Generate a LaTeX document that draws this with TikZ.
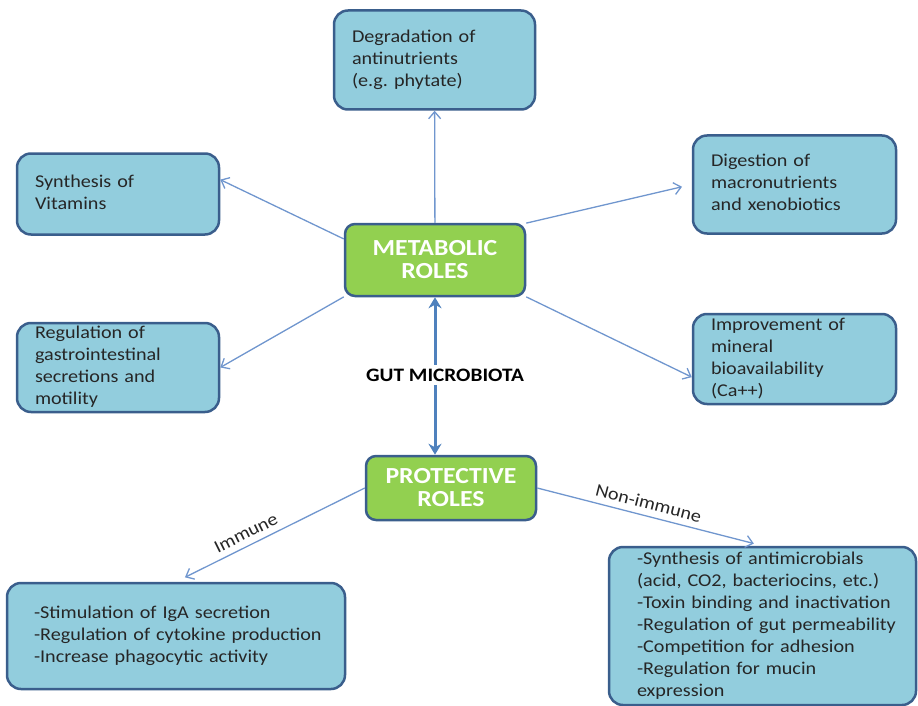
\documentclass[tikz,border=0pt]{standalone}
\usepackage{fontspec}
\setmainfont{Carlito}[FakeStretch=1.12]
\usetikzlibrary{arrows.meta, positioning}
\definecolor{boxfill}{RGB}{146,205,221}
\definecolor{boxline}{RGB}{58,94,140}
\definecolor{rolefill}{RGB}{146,208,80}
\definecolor{arrline}{RGB}{112,150,206}
\definecolor{gutline}{RGB}{79,129,189}
\newcommand{\boxlines}[1]{\begin{tabular}{@{}l@{}}#1\end{tabular}}

\begin{document}
\begin{tikzpicture}[
    x=1pt, y=-1pt,
    font=\fontsize{18}{22}\selectfont,
    box/.style={draw=boxline, fill=boxfill, line width=2.5pt, rounded corners=14pt, text=black!85,
                align=left, inner xsep=18pt, inner ysep=0pt},
    rolebox/.style={draw=boxline, fill=rolefill, line width=2.5pt, rounded corners=10pt, text=white,
                font=\fontsize{23}{23}\selectfont\bfseries, align=center, inner sep=0pt},
    arr/.style={-{Straight Barb[length=7pt,width=12pt]}, draw=arrline, line width=1.3pt},
    gut/.style={{Stealth[length=11pt,width=13pt]}-{Stealth[length=11pt,width=13pt]}, draw=gutline, line width=3pt},
    lbl/.style={font=\fontsize{18}{20}\selectfont, text=black!85, sloped, above, inner sep=6pt}
]
\path[use as bounding box] (0,0) rectangle (918,706);

\node[rolebox, minimum width=180pt, minimum height=72pt] (metab) at (435,260) {METABOLIC\\ROLES};
\node[rolebox, minimum width=170pt, minimum height=64pt] (prot) at (451,488) {PROTECTIVE\\ROLES};

\node[box, text width=165pt, minimum height=99pt] (degr) at (434.5,60) {\boxlines{Degradation of\\antinutrients\\(e.g.\ phytate)}};
\node[box, text width=166pt, minimum height=81pt] (synth) at (118,194) {\boxlines{Synthesis of\\Vitamins}};
\node[box, text width=167pt, minimum height=98pt] (dig) at (794.5,184.5) {\boxlines{Digestion of\\macronutrients\\and xenobiotics}};
\node[box, text width=166pt, minimum height=89pt] (reg) at (118,367.5) {\boxlines{Regulation of\\gastrointestinal\\secretions and\\motility}};
\node[box, text width=167pt, minimum height=90pt] (impr) at (794.5,359) {\boxlines{Improvement of\\mineral\\bioavailability\\(Ca++)}};

\node[box, inner xsep=27pt, text width=284pt, minimum height=106pt] (immune) at (176,636)
    {\boxlines{-Stimulation of IgA secretion\\-Regulation of cytokine production\\-Increase phagocytic activity}};
\node[box, inner xsep=28pt, text width=251pt, minimum height=158pt] (nonimmune) at (762.5,626)
    {\boxlines{-Synthesis of antimicrobials\\(acid, CO2, bacteriocins, etc.)\\-Toxin binding and inactivation\\-Regulation of gut permeability\\-Competition for adhesion\\-Regulation for mucin\\expression}};

\draw[arr] (metab) -- (degr);
\draw[arr] (metab.167) -- (synth.8);
\draw[arr, shorten >=10pt] (metab.22) -- (dig.west);
\draw[arr] (metab.202) -- (reg.east);
\draw[arr] (metab.338) -- (impr.190);

\draw[gut] (metab.south) -- (metab.south |- prot.north);
\node[font=\fontsize{19}{20}\selectfont\bfseries, fill=white, inner sep=4pt] (gutlbl) at (445,375) {GUT MICROBIOTA};

\draw[arr, shorten >=10pt] (prot.west) -- (immune.north) node[lbl, pos=0.6] {Immune};
\draw[arr, shorten >=9pt] (prot.east) -- (nonimmune.north) node[lbl, pos=0.48] {Non-immune};
\end{tikzpicture}
\end{document}
